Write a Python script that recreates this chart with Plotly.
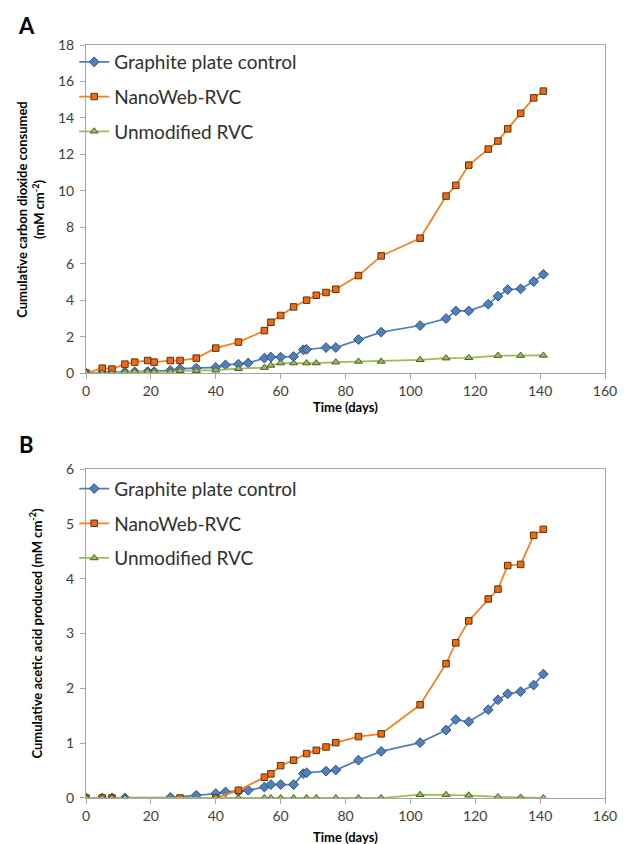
import plotly.graph_objects as go

# ---------------- Data ----------------
# Panel A: cumulative carbon dioxide consumed (mM cm-2)
a_graphite_days = [0, 5, 8, 12, 15, 19, 21, 26, 29, 34, 40, 43, 47, 50, 55, 57, 60, 64, 67, 68,
                   74, 77, 84, 91, 103, 111, 114, 118, 124, 127, 130, 134, 138, 141]
a_graphite_vals = [0, 0.02, 0.03, 0.05, 0.07, 0.08, 0.08, 0.14, 0.24, 0.27, 0.31, 0.45, 0.49, 0.55,
                   0.82, 0.88, 0.88, 0.91, 1.28, 1.30, 1.40, 1.40, 1.84, 2.25, 2.61, 2.99, 3.41,
                   3.41, 3.78, 4.22, 4.58, 4.62, 5.02, 5.42]

a_nanoweb_days = [0, 5, 8, 12, 15, 19, 21, 26, 29, 34, 40, 47, 55, 57, 60, 64, 68, 71, 74, 77,
                  84, 91, 103, 111, 114, 118, 124, 127, 130, 134, 138, 141]
a_nanoweb_vals = [0, 0.27, 0.22, 0.49, 0.60, 0.69, 0.60, 0.69, 0.69, 0.82, 1.37, 1.70, 2.33, 2.79,
                  3.16, 3.63, 4.00, 4.27, 4.42, 4.60, 5.35, 6.43, 7.40, 9.71, 10.30, 11.41, 12.29,
                  12.73, 13.40, 14.25, 15.10, 15.47]

a_unmod_days = [0, 5, 8, 12, 15, 19, 21, 26, 29, 34, 40, 47, 55, 57, 60, 64, 68, 71, 77, 84, 91,
                103, 111, 118, 127, 134, 141]
a_unmod_vals = [0, 0, 0, 0.05, 0.07, 0.07, 0.07, 0.07, 0.13, 0.13, 0.16, 0.24, 0.30, 0.42, 0.55,
                0.55, 0.55, 0.55, 0.60, 0.64, 0.64, 0.73, 0.82, 0.84, 0.96, 0.96, 0.97]

# Panel B: cumulative acetic acid produced (mM cm-2)
b_graphite_days = [0, 5, 8, 12, 26, 34, 40, 43, 47, 50, 55, 57, 60, 64, 67, 68, 74, 77, 84, 91,
                   103, 111, 114, 118, 124, 127, 130, 134, 138, 141]
b_graphite_vals = [0, 0, 0, 0, 0.01, 0.05, 0.08, 0.11, 0.12, 0.14, 0.20, 0.245, 0.245, 0.245,
                   0.445, 0.46, 0.49, 0.51, 0.69, 0.85, 1.01, 1.24, 1.43, 1.39, 1.61, 1.79, 1.90,
                   1.94, 2.06, 2.26]

b_nanoweb_days = [0, 5, 8, 29, 40, 47, 55, 57, 60, 64, 68, 71, 74, 77, 84, 91, 103, 111, 114, 118,
                  124, 127, 130, 134, 138, 141]
b_nanoweb_vals = [0, 0, 0, 0, 0, 0.14, 0.38, 0.44, 0.59, 0.69, 0.81, 0.87, 0.93, 1.01, 1.12, 1.17,
                  1.70, 2.45, 2.83, 3.23, 3.63, 3.81, 4.24, 4.26, 4.79, 4.90]

b_unmod_days = [0, 5, 8, 12, 40, 47, 55, 57, 60, 64, 68, 71, 77, 84, 91, 103, 111, 118, 127, 134, 141]
b_unmod_vals = [0, 0, 0, 0, 0, 0, 0, 0, 0, 0, 0, 0, 0, 0, 0, 0.06, 0.06, 0.05, 0.02, 0.01, 0.0]

series_names = ["Graphite plate control", "NanoWeb-RVC", "Unmodified RVC"]
x_ticks = [0, 20, 40, 60, 80, 100, 120, 140, 160]

# ---------------- Styles ----------------
FONT = "Lato"
styles = [
    dict(line=dict(color="#4F81BD", width=1.75),
         marker=dict(symbol="diamond", size=7.5, color="#4F81BD",
                     line=dict(color="#2E4F78", width=1))),
    dict(line=dict(color="#F58220", width=1.75),
         marker=dict(symbol="square", size=6.5, color="#F06A0F",
                     line=dict(color="#5A3210", width=1))),
    dict(line=dict(color="#9BBB59", width=1.75),
         marker=dict(symbol="triangle-up", size=7, color="#9BBB59",
                     line=dict(color="#4A5E25", width=1))),
]

fig = go.Figure()

panel_a = [(a_graphite_days, a_graphite_vals), (a_nanoweb_days, a_nanoweb_vals),
           (a_unmod_days, a_unmod_vals)]
panel_b = [(b_graphite_days, b_graphite_vals), (b_nanoweb_days, b_nanoweb_vals),
           (b_unmod_days, b_unmod_vals)]

for i, (d, v) in enumerate(panel_a):
    fig.add_trace(go.Scatter(x=d, y=v, mode="lines+markers", name=series_names[i],
                             xaxis="x", yaxis="y", legend="legend",
                             legendgroup="a%d" % i, **styles[i]))
for i, (d, v) in enumerate(panel_b):
    fig.add_trace(go.Scatter(x=d, y=v, mode="lines+markers", name=series_names[i],
                             xaxis="x2", yaxis="y2", legend="legend2",
                             legendgroup="b%d" % i, **styles[i]))

# ---------------- Layout ----------------
# the page body adds an 8 px offset; figure coordinates = page coordinates - 8
OFF = 8
W, H = 629 - OFF, 844 - OFF
ML = 86 - OFF
MR = W - (614 - OFF)
MT = 45 - OFF
MB = H - (798.5 - OFF)
plot_h = H - MT - MB
plot_w = W - ML - MR


def py(page_y):
    return (H - MB - (page_y - OFF)) / plot_h


def px(page_x):
    return ((page_x - OFF) - ML) / plot_w


axis_common = dict(showline=True, linecolor="#A6A6A6", linewidth=1, mirror=True,
                   showgrid=False, zeroline=False, ticks="outside", ticklen=5,
                   tickcolor="#A6A6A6", tickfont=dict(family=FONT, size=14, color="#404040"))

legend_common = dict(xanchor="left", yanchor="top", bgcolor="rgba(0,0,0,0)",
                     font=dict(family=FONT, size=19, color="#303030"),
                     tracegroupgap=7, itemwidth=30)

fig.update_layout(
    width=W, height=H,
    margin=dict(l=ML, r=MR, t=MT, b=MB),
    paper_bgcolor="white", plot_bgcolor="white",
    font=dict(family=FONT, color="#404040"),
    xaxis=dict(domain=[0, 1], anchor="y", range=[0, 160], tickvals=x_ticks, **axis_common),
    yaxis=dict(domain=[py(373.3), 1], anchor="x", range=[0, 18], dtick=2,
               ticklabelstandoff=3, **axis_common),
    xaxis2=dict(domain=[0, 1], anchor="y2", range=[0, 160], tickvals=x_ticks, **axis_common),
    yaxis2=dict(domain=[0, py(469.3)], anchor="x2", range=[0, 6], dtick=1,
                ticklabelstandoff=3, **axis_common),
    legend=dict(x=px(74), y=py(43), **legend_common),
    legend2=dict(x=px(74), y=py(470), **legend_common),
    showlegend=True,
)

ann = [
    dict(text="<b>A</b>", x=px(25), y=py(25), font=dict(size=22, color="black")),
    dict(text="<b>B</b>", x=px(25), y=py(445), font=dict(size=22, color="black")),
    dict(text="<b>Time (days)</b>", x=px(350), y=py(407), font=dict(size=13, color="black")),
    dict(text="<b>Time (days)</b>", x=px(350), y=py(838), font=dict(size=13, color="black")),
    dict(text="<b>Cumulative carbon dioxide consumed<br>(mM cm<sup>-2</sup>)</b>",
         x=px(30), y=py(209), textangle=-90, font=dict(size=13, color="black")),
    dict(text="<b>Cumulative acetic acid produced (mM cm<sup>-2</sup>)</b>",
         x=px(35), y=py(634), textangle=-90, font=dict(size=13, color="black")),
]
for a in ann:
    fig.add_annotation(xref="paper", yref="paper", showarrow=False,
                       xanchor="center", yanchor="middle", font_family=FONT, **a)

fig.write_html("out.html")
